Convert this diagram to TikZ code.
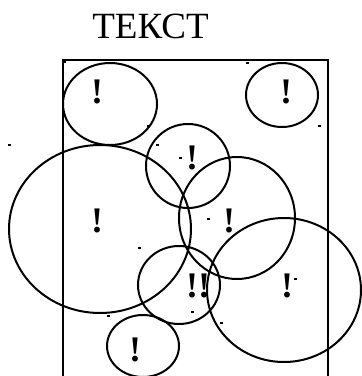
\documentclass[tikz,border=0pt]{standalone}
\usepackage{fontspec}
\setmainfont{Liberation Serif}
\begin{document}
\begin{tikzpicture}[x=1pt,y=-1pt,
  ring/.style={draw=black,line width=2pt},
  frame/.style={draw=black,line width=2pt},
  heading/.style={inner sep=0pt,anchor=base,font=\fontsize{37}{37}\selectfont},
  bang/.style={inner sep=0pt,anchor=base,font=\fontsize{36}{36}\selectfont\bfseries},
  speck/.style={fill=black}]
\useasboundingbox (0,0) rectangle (362,376);
\node[heading] (title) at (150.5,38) {ТЕКСТ};
\coordinate (fl) at (63,378);
\coordinate (fr) at (328,378);
\draw[frame] (fl) |- (328,60) -- (fr);
% ellipses
\draw[ring] (110,104) ellipse [x radius=47,y radius=41];
\draw[ring] (282,95) ellipse [x radius=36,y radius=32];
\draw[ring] (188,166) ellipse [x radius=42,y radius=42];
\draw[ring] (100,229) ellipse [x radius=91,y radius=84];
\draw[ring] (237,218) ellipse [x radius=58,y radius=61];
\draw[ring] (179,285) ellipse [x radius=41,y radius=39];
\draw[ring] (284,290) ellipse [x radius=77,y radius=72];
\draw[ring] (143,346) ellipse [x radius=36,y radius=31];
% marks
\node[bang] (b1) at (97,103) {!};
\node[bang] (b2) at (286,103) {!};
\node[bang] (b3) at (192,169) {!};
\node[bang] (b4) at (97,232) {!};
\node[bang] (b5) at (229,232) {!};
\node[bang] (b6) at (192,297) {!};
\node[bang] (b7) at (204,297) {!};
\node[bang] (b8) at (287,297) {!};
\node[bang] (b9) at (135,361) {!};
% specks
\foreach \px/\py in {64/62,247/63,10/145,148/126,157/145,180/158,319/126,208/219,139/248,295/279,192/312,108/316,221/323}
  \fill[speck] (\px-1.5,\py-0.9) rectangle (\px+1.5,\py+0.9);
\end{tikzpicture}
\end{document}
